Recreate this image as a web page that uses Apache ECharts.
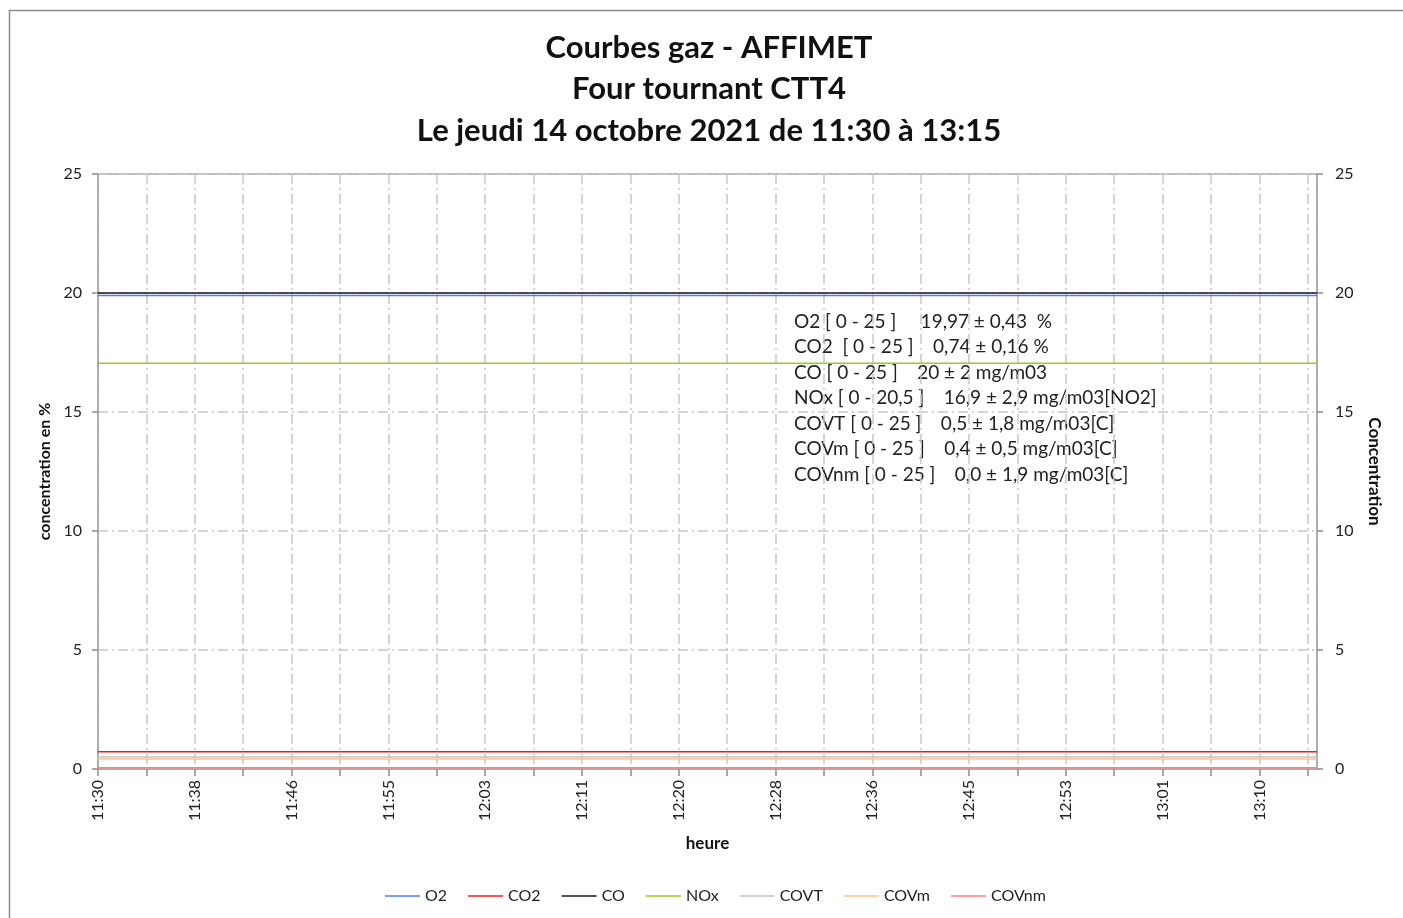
<!DOCTYPE html>
<html>
<head>
<meta charset="utf-8">
<script src="https://cdn.jsdelivr.net/npm/echarts@6/dist/echarts.min.js"></script>
<style>
  html, body { margin: 0; padding: 0; background: #fff; }
  #chart { width: 1403px; height: 918px; }
</style>
</head>
<body>
<div id="chart"></div>
<script>
// temps en minutes depuis 11:30
var tickLabels = ['11:30', '11:38', '11:46', '11:55', '12:03', '12:11', '12:20',
                  '12:28', '12:36', '12:45', '12:53', '13:01', '13:10'];
var timeRange = [0, 105.8];

var seriesNames = ['O2', 'CO2', 'CO', 'NOx', 'COVT', 'COVm', 'COVnm'];
var seriesColors = ['#4f7ef0', '#ee1c1c', '#1a1a1a', '#9acd1e', '#c4c4c4', '#fac38c', '#ff8080'];
var seriesValues = [19.9, 0.73, 20.0, 17.05, 0.5, 0.42, 0.05];

var infoLines = [
  'O2 [ 0 - 25 ]     19,97 ± 0,43  %',
  'CO2  [ 0 - 25 ]    0,74 ± 0,16 %',
  'CO [ 0 - 25 ]    20 ± 2 mg/m03',
  'NOx [ 0 - 20,5 ]    16,9 ± 2,9 mg/m03[NO2]',
  'COVT [ 0 - 25 ]    0,5 ± 1,8 mg/m03[C]',
  'COVm [ 0 - 25 ]    0,4 ± 0,5 mg/m03[C]',
  'COVnm [ 0 - 25 ]    0,0 ± 1,9 mg/m03[C]'
];

var FONT = 'Lato';
var dashDot = [10, 4, 2, 4];

var chart = echarts.init(document.getElementById('chart'));

var series = seriesNames.map(function (name, i) {
  return {
    name: name,
    type: 'line',
    showSymbol: false,
    symbol: 'none',
    silent: true,
    lineStyle: { color: seriesColors[i], width: 1.5 },
    itemStyle: { color: seriesColors[i] },
    data: [[timeRange[0], seriesValues[i]], [timeRange[1], seriesValues[i]]]
  };
});

var option = {
  animation: false,
  backgroundColor: '#fff',
  title: {
    text: 'Courbes gaz - AFFIMET\nFour tournant CTT4\nLe jeudi 14 octobre 2021 de 11:30 à 13:15',
    left: 704,
    textAlign: 'center',
    top: 22,
    textStyle: {
      fontFamily: FONT,
      fontWeight: 'bold',
      fontSize: 31,
      lineHeight: 41.5,
      color: '#111'
    }
  },
  graphic: [
    {
      type: 'rect',
      shape: { x: 9.5, y: 10.5, width: 1460, height: 960 },
      style: { fill: 'none', stroke: '#8c8c8c', lineWidth: 1.5 },
      silent: true
    },
    {
      type: 'text',
      left: 794,
      top: 309,
      style: {
        text: infoLines.join('\n'),
        font: '19px ' + FONT,
        lineHeight: 25.5,
        fill: '#222'
      }
    }
  ],
  legend: {
    bottom: 9,
    left: 380,
    icon: 'rect',
    itemWidth: 35,
    itemHeight: 1.5,
    itemGap: 21,
    data: seriesNames,
    textStyle: { fontFamily: FONT, fontSize: 16, color: '#222', padding: [0, 0, 0, 0] }
  },
  grid: {
    left: 98,
    right: 86,
    top: 174,
    bottom: 149,
    show: true,
    borderColor: '#a6a6a6',
    borderWidth: 1.5
  },
  xAxis: {
    type: 'value',
    min: timeRange[0],
    max: timeRange[1],
    interval: 4.2,
    name: 'heure',
    nameLocation: 'middle',
    nameGap: 66,
    nameTextStyle: { fontFamily: FONT, fontWeight: 'bold', fontSize: 17, color: '#111' },
    axisLine: { show: true, lineStyle: { color: '#a6a6a6', width: 1.5 } },
    axisTick: { show: true, length: 7, lineStyle: { color: '#8c8c8c', width: 1.5 } },
    axisLabel: {
      rotate: 90,
      showMaxLabel: false,
      margin: 11,
      fontFamily: FONT,
      fontSize: 16,
      color: '#222',
      formatter: function (v) {
        var k = Math.round(v / 4.2);
        if (k % 2 !== 0) return '';
        return tickLabels[k / 2] || '';
      }
    },
    splitLine: { show: true, lineStyle: { color: '#c8c8c8', width: 1.5, type: dashDot } }
  },
  yAxis: [
    {
      type: 'value',
      min: 0,
      max: 25,
      interval: 5,
      position: 'left',
      name: 'concentration en %',
      nameLocation: 'middle',
      nameGap: 44,
      nameTextStyle: { fontFamily: FONT, fontWeight: 'bold', fontSize: 16, color: '#111' },
      axisLine: { show: true, lineStyle: { color: '#a6a6a6', width: 1.5 } },
      axisTick: { show: true, length: 6, lineStyle: { color: '#8c8c8c', width: 1.5 } },
      axisLabel: { margin: 16, fontFamily: FONT, fontSize: 16, color: '#222' },
      splitLine: { show: true, lineStyle: { color: '#c8c8c8', width: 1.5, type: dashDot } }
    },
    {
      type: 'value',
      min: 0,
      max: 25,
      interval: 5,
      position: 'right',
      name: 'Concentration',
      nameLocation: 'middle',
      nameGap: 49,
      nameRotate: -90,
      nameTextStyle: { fontFamily: FONT, fontWeight: 'bold', fontSize: 17, color: '#111' },
      axisLine: { show: true, lineStyle: { color: '#a6a6a6', width: 1.5 } },
      axisTick: { show: true, length: 6, lineStyle: { color: '#8c8c8c', width: 1.5 } },
      axisLabel: { margin: 18, fontFamily: FONT, fontSize: 16, color: '#222' },
      splitLine: { show: false }
    }
  ],
  series: series
};

chart.setOption(option);
</script>
</body>
</html>
